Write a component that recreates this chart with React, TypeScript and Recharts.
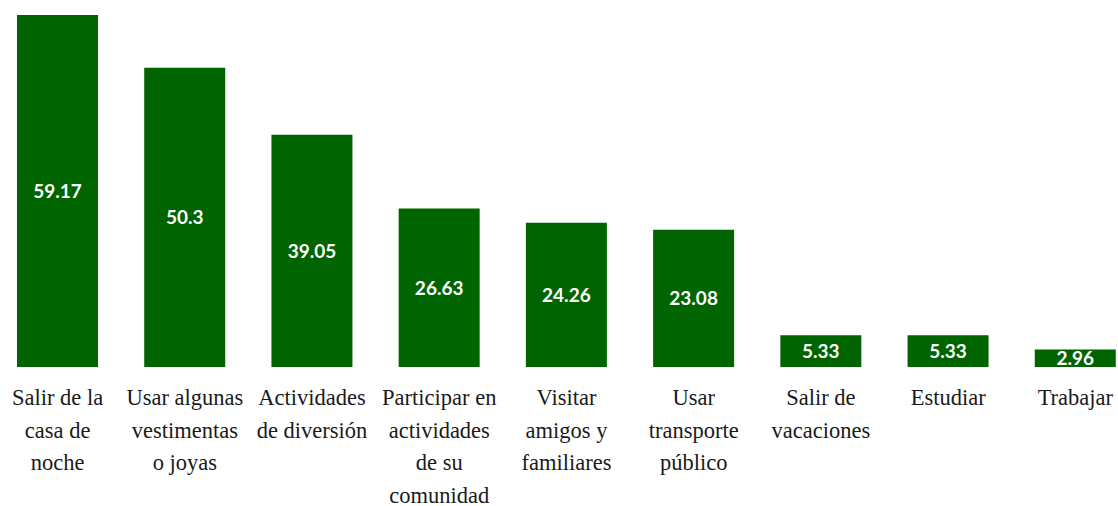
import React from "react";
import { BarChart, Bar, XAxis, YAxis, LabelList } from "recharts";

const categories = [
  "Salir de la casa de noche",
  "Usar algunas vestimentas o joyas",
  "Actividades de diversión",
  "Participar en actividades de su comunidad",
  "Visitar amigos y familiares",
  "Usar transporte público",
  "Salir de vacaciones",
  "Estudiar",
  "Trabajar",
];

const tickLines = [
  ["Salir de la", "casa de", "noche"],
  ["Usar algunas", "vestimentas", "o joyas"],
  ["Actividades", "de diversión"],
  ["Participar en", "actividades", "de su", "comunidad"],
  ["Visitar", "amigos y", "familiares"],
  ["Usar", "transporte", "público"],
  ["Salir de", "vacaciones"],
  ["Estudiar"],
  ["Trabajar"],
];

const values = [59.17, 50.3, 39.05, 26.63, 24.26, 23.08, 5.33, 5.33, 2.96];

const data = categories.map((name, i) => ({ name, value: values[i] }));

const CategoryTick = (props: any) => {
  const { x, y, index } = props;
  const lines = tickLines[index] || [];
  return (
    <text
      x={x}
      y={y}
      textAnchor="middle"
      fill="#1a1a1a"
      style={{ fontFamily: "Liberation Serif, Times New Roman, serif", fontSize: 22.5 }}
    >
      {lines.map((line, i) => (
        <tspan key={i} x={x} dy={i === 0 ? 30 : 32.5}>
          {line}
        </tspan>
      ))}
    </text>
  );
};

const App: React.FC = () => {
  return (
    <div style={{ position: "absolute", left: -6, top: 0 }}>
      <BarChart
        width={1145}
        height={506}
        data={data}
        margin={{ top: 15, right: 0, bottom: 0, left: 0 }}
      >
        <XAxis
          dataKey="name"
          interval={0}
          axisLine={false}
          tickLine={false}
          height={139}
          tick={<CategoryTick />}
        />
        <YAxis hide domain={[0, 59.17]} />
        <Bar dataKey="value" fill="#006400" barSize={81} isAnimationActive={false}>
          <LabelList
            dataKey="value"
            position="center"
            fill="#ffffff"
            fontFamily="Lato, sans-serif"
            fontWeight={700}
            fontSize={19}
          />
        </Bar>
      </BarChart>
    </div>
  );
};

export default App;
